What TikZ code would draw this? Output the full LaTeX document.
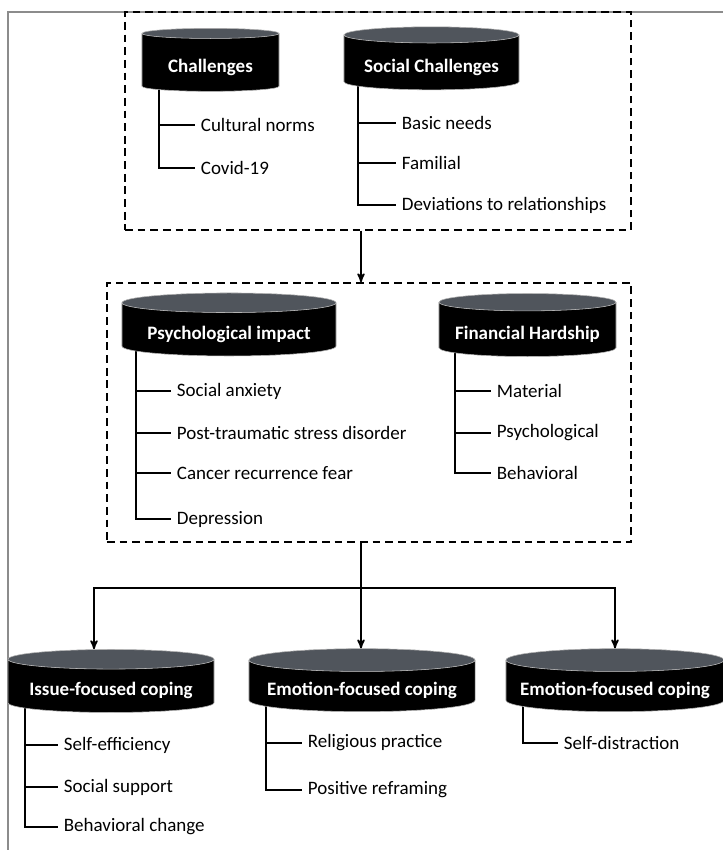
\documentclass[tikz,border=0pt]{standalone}
\usepackage{fontspec}
\setmainfont{Carlito}
\usepackage{tikz}
\usetikzlibrary{arrows,shapes.geometric,backgrounds}
\definecolor{capgray}{HTML}{50555C}
\definecolor{framegray}{HTML}{8C8C8C}

\begin{document}
\begin{tikzpicture}
    [x=0.025cm,y=-0.025cm,
      cyl/.style={cylinder,shape border rotate=90,aspect=0.12,cylinder uses custom fill,
        cylinder body fill=black,cylinder end fill=capgray,draw=gray!60,line width=0.4pt,
        text=white,font=\bfseries\fontsize{13.5}{16}\selectfont,inner sep=0pt,
        text height=17pt,text depth=3pt,minimum height=1.575cm},
      item/.style={anchor=west,inner sep=0pt,inner xsep=4pt,font=\fontsize{13.5}{16}\selectfont},
      box/.style={draw,line width=1pt,dash pattern=on 5.5pt off 3.5pt,inner sep=0pt},
      stem/.style={line width=1.4pt},
      arr/.style={->,>=stealth',line width=1.2pt}]
      \useasboundingbox (0,0) rectangle (723,850);
      \draw[framegray,line width=1.2pt] (723,12) -- (8,12) -- (8,850);

      \node[box,minimum width=12.65cm,minimum height=5.45cm] (topbox) at (378,121) {};
      \node[box,minimum width=13.1cm,minimum height=6.475cm] (midbox) at (369,412.5) {};

      \node[cyl,minimum width=3.425cm] (chal) at (210.5,62.5) {Challenges};
      \node[cyl,minimum width=4.375cm] (soc) at (431.5,62.5) {Social Challenges};
      \node[item] (cn) at (195,125) {Cultural norms};
      \node[item] (cov) at (195,168) {Covid-19};
      \node[item] (bn) at (396,123) {Basic needs};
      \node[item] (fam) at (396,163) {Familial};
      \node[item] (dev) at (396,205) {Deviations to relationships};

      \node[cyl,minimum width=5.35cm] (psy) at (229,329.5) {Psychological impact};
      \node[cyl,minimum width=4.425cm] (fin) at (527.5,329.5) {Financial Hardship};
      \node[item] (sa) at (171,391) {Social anxiety};
      \node[item] (ptsd) at (171,433) {Post-traumatic stress disorder};
      \node[item] (crf) at (171,473) {Cancer recurrence fear};
      \node[item] (dep) at (171,519) {Depression};
      \node[item] (mat) at (491,391) {Material};
      \node[item] (psl) at (491,433) {Psychological};
      \node[item] (beh) at (491,473) {Behavioral};

      \node[cyl,minimum width=5.15cm] (iss) at (111,686) {Issue-focused coping};
      \node[cyl,minimum width=5.65cm] (emoa) at (362,686) {Emotion-focused coping};
      \node[cyl,minimum width=5.45cm] (emob) at (615,686) {Emotion-focused coping};
      \node[item] (se) at (58,745) {Self-efficiency};
      \node[item] (ss) at (58,787) {Social support};
      \node[item] (bc) at (58,827) {Behavioral change};
      \node[item] (rp) at (302,743) {Religious practice};
      \node[item] (pr) at (302,790) {Positive reframing};
      \node[item] (sd) at (558,743) {Self-distraction};

      \begin{scope}[on background layer]
      \foreach \from/\dx/\to in {
	  chal/17/cn,chal/17/cov,
	  soc/14/bn,soc/14/fam,soc/14/dev,
	  psy/14/sa,psy/14/ptsd,psy/14/crf,psy/14/dep,
	  fin/16/mat,fin/16/psl,fin/16/beh,
	  iss/17/se,iss/17/ss,iss/17/bc,
	  emoa/17/rp,emoa/17/pr,
	  emob/17/sd}
	\draw[stem] ([xshift=\dx*0.025cm]\from.west) |- (\to.west);
      \end{scope}

      \coordinate (split) at (361,588);
      \draw[arr] (topbox.south -| split) -- (midbox.north -| split);
      \draw[stem] (midbox.south -| split) -- (split);
      \draw[arr] (split) -| ([xshift=-0.425cm]iss.north);
      \draw[arr] (split) -- (split |- emoa.north);
      \draw[arr] (split) -| (emob.north);
    \end{tikzpicture}
\end{document}
